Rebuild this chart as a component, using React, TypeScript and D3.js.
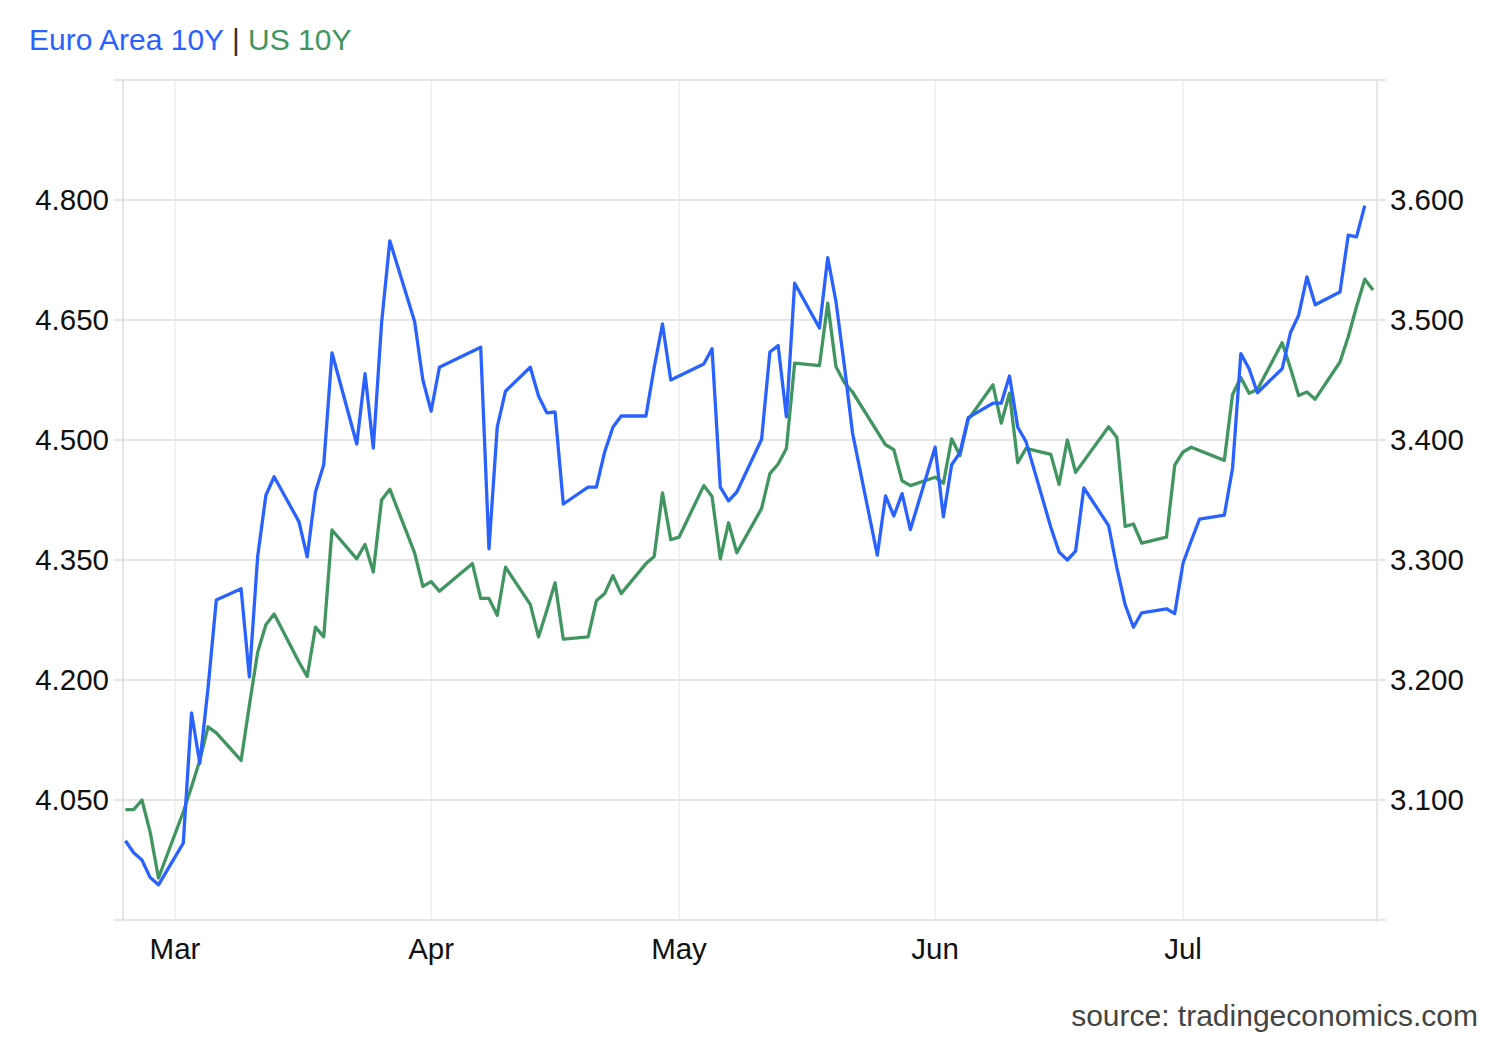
import React from "react";
import * as d3 from "d3";

// trading days, 2026 (MM-DD)
const tradingDays: string[] = [
  "02-23", "02-24", "02-25", "02-26", "02-27",
  "03-02", "03-03", "03-04", "03-05", "03-06", "03-09", "03-10", "03-11", "03-12", "03-13",
  "03-16", "03-17", "03-18", "03-19", "03-20", "03-23", "03-24", "03-25", "03-26", "03-27",
  "03-30", "03-31",
  "04-01", "04-02", "04-03", "04-06", "04-07", "04-08", "04-09", "04-10", "04-13", "04-14",
  "04-15", "04-16", "04-17", "04-20", "04-21", "04-22", "04-23", "04-24", "04-27", "04-28",
  "04-29", "04-30",
  "05-01", "05-04", "05-05", "05-06", "05-07", "05-08", "05-11", "05-12", "05-13", "05-14",
  "05-15", "05-18", "05-19", "05-20", "05-21", "05-22", "05-25", "05-26", "05-27", "05-28",
  "05-29",
  "06-01", "06-02", "06-03", "06-04", "06-05", "06-08", "06-09", "06-10", "06-11", "06-12",
  "06-15", "06-16", "06-17", "06-18", "06-19", "06-22", "06-23", "06-24", "06-25", "06-26",
  "06-29", "06-30",
  "07-01", "07-02", "07-03", "07-06", "07-07", "07-08", "07-09", "07-10", "07-13", "07-14",
  "07-15", "07-16", "07-17", "07-20", "07-21", "07-22", "07-23", "07-24",
];

// Euro Area 10Y (left axis), null = no quote that day
const euroYield: (number | null)[] = [
  3.999, 3.984, 3.975, 3.953, 3.944,
  3.996, 4.159, 4.096, 4.19, 4.3, 4.314, 4.204, 4.354, 4.431, 4.454,
  4.398, 4.354, 4.435, 4.469, 4.609, 4.495, 4.583, 4.49, 4.646, 4.749,
  4.648, 4.575,
  4.536, 4.591, null, null, 4.616, 4.364, 4.516, 4.561, 4.591, 4.555,
  4.534, 4.535, 4.42, 4.441, 4.441, 4.485, 4.516, 4.53, 4.53, 4.591,
  4.645, 4.575,
  4.58, 4.595, 4.614, 4.441, 4.424, 4.435, 4.501, 4.61, 4.618, 4.529,
  4.696, 4.64, 4.728, 4.673, 4.594, 4.509, 4.356, 4.43, 4.405, 4.433,
  4.388,
  4.491, 4.404, 4.469, 4.484, 4.528, 4.546, 4.546, 4.58, 4.516, 4.498,
  4.391, 4.36, 4.35, 4.361, 4.44, 4.393, 4.34, 4.294, 4.266, 4.284,
  4.289, 4.283,
  4.346, 4.374, 4.401, 4.406, 4.465, 4.608, 4.589, 4.559, 4.589, 4.634,
  4.656, 4.704, 4.669, 4.685, 4.756, 4.754, 4.793, null,
];

// US 10Y (right axis)
const usYield: (number | null)[] = [
  3.092, 3.092, 3.1, 3.073, 3.035,
  3.09, 3.111, 3.133, 3.161, 3.156, 3.133, 3.179, 3.223, 3.246, 3.255,
  3.215, 3.203, 3.244, 3.236, 3.325, 3.301, 3.313, 3.29, 3.35, 3.359,
  3.306, 3.278,
  3.282, 3.274, null, 3.297, 3.268, 3.268, 3.254, 3.294, 3.263, 3.236,
  3.258, 3.281, 3.234, 3.236, 3.266, 3.272, 3.287, 3.272, 3.297, 3.303,
  3.356, 3.317,
  3.319, 3.362, 3.353, 3.301, 3.331, 3.306, 3.343, 3.372, 3.38, 3.393,
  3.464, 3.462, 3.514, 3.461, 3.448, 3.44, null, 3.396, 3.392, 3.366,
  3.362,
  3.369, 3.364, 3.401, 3.387, 3.417, 3.446, 3.414, 3.439, 3.381, 3.393,
  3.388, 3.363, 3.4, 3.373, null, 3.411, 3.402, 3.328, 3.33, 3.314,
  3.319, 3.379,
  3.39, 3.394, null, 3.383, 3.438, 3.452, 3.439, 3.442, 3.481, 3.46,
  3.437, 3.44, 3.434, 3.465, 3.486, 3.511, 3.534, 3.525,
];

const leftTicks = [4.05, 4.2, 4.35, 4.5, 4.65, 4.8];
const rightTicks = [3.1, 3.2, 3.3, 3.4, 3.5, 3.6];

const BLUE = "#2962ff";
const GREEN = "#419560";
const FONT = "'Liberation Sans', Arial, sans-serif";

const W = 1500;
const H = 1040;
const left = 123;
const right = 1377;
const top = 80;
const bottom = 920;

const parse = d3.utcParse("%Y-%m-%d");

type Pt = { date: Date; value: number };

function toPoints(values: (number | null)[]): Pt[] {
  const pts: Pt[] = [];
  values.forEach((v, i) => {
    if (v != null) pts.push({ date: parse("2026-" + tradingDays[i])!, value: v });
  });
  return pts;
}

const App: React.FC = () => {
  const x = d3
    .scaleUtc()
    .domain([parse("2026-03-01")!, parse("2026-07-01")!])
    .range([175, 1183]);
  const yLeft = d3.scaleLinear().domain([3.9, 4.95]).range([bottom, top]);
  const yRight = d3.scaleLinear().domain([3.0, 3.7]).range([bottom, top]);

  const months = d3.utcMonth.range(x.invert(left), x.invert(right));

  const euroLine = d3
    .line<Pt>()
    .x((d) => x(d.date))
    .y((d) => yLeft(d.value));
  const usLine = d3
    .line<Pt>()
    .x((d) => x(d.date))
    .y((d) => yRight(d.value));

  const fmt = d3.format(".3f");
  const monthFmt = d3.utcFormat("%b");

  return (
    <svg
      width={W}
      height={H}
      style={{ position: "absolute", left: 0, top: 0, background: "#fff" }}
      fontFamily={FONT}
    >
      {/* title */}
      <text x={29} y={50} fontSize={30}>
        <tspan fill={BLUE}>Euro Area 10Y</tspan>
        <tspan fill="#333"> | </tspan>
        <tspan fill={GREEN}>US 10Y</tspan>
      </text>

      {/* month grid */}
      {months.map((m) => (
        <line
          key={+m}
          x1={x(m)}
          x2={x(m)}
          y1={top}
          y2={bottom}
          stroke="#eef1f5"
          strokeWidth={2}
        />
      ))}

      {/* horizontal grid */}
      {[...leftTicks, 3.9, 4.95].map((t) => (
        <line
          key={t}
          x1={114}
          x2={1386}
          y1={yLeft(t)}
          y2={yLeft(t)}
          stroke="#e6e6e6"
          strokeWidth={2}
        />
      ))}

      {/* axis lines */}
      <line x1={left} x2={left} y1={top} y2={bottom + 2} stroke="#e6e6e6" strokeWidth={2} />
      <line x1={right} x2={right} y1={top} y2={bottom + 2} stroke="#e6e6e6" strokeWidth={2} />

      {/* left axis labels */}
      {leftTicks.map((t) => (
        <text
          key={t}
          x={109}
          y={yLeft(t)}
          dy="0.35em"
          textAnchor="end"
          fontSize={29.5}
          fill="#111"
        >
          {fmt(t)}
        </text>
      ))}

      {/* right axis labels */}
      {rightTicks.map((t) => (
        <text key={t} x={1390} y={yRight(t)} dy="0.35em" fontSize={29.5} fill="#111">
          {fmt(t)}
        </text>
      ))}

      {/* month labels */}
      {months.map((m) => (
        <text key={+m} x={x(m)} y={959} textAnchor="middle" fontSize={29.5} fill="#111">
          {monthFmt(m)}
        </text>
      ))}

      {/* series */}
      <path
        d={usLine(toPoints(usYield)) || ""}
        fill="none"
        stroke={GREEN}
        strokeWidth={3.3}
        strokeLinejoin="round"
      />
      <path
        d={euroLine(toPoints(euroYield)) || ""}
        fill="none"
        stroke={BLUE}
        strokeWidth={3.3}
        strokeLinejoin="round"
      />

      <text x={1478} y={1026} textAnchor="end" fontSize={30} fill="#444">
        source: tradingeconomics.com
      </text>
    </svg>
  );
};

export default App;
